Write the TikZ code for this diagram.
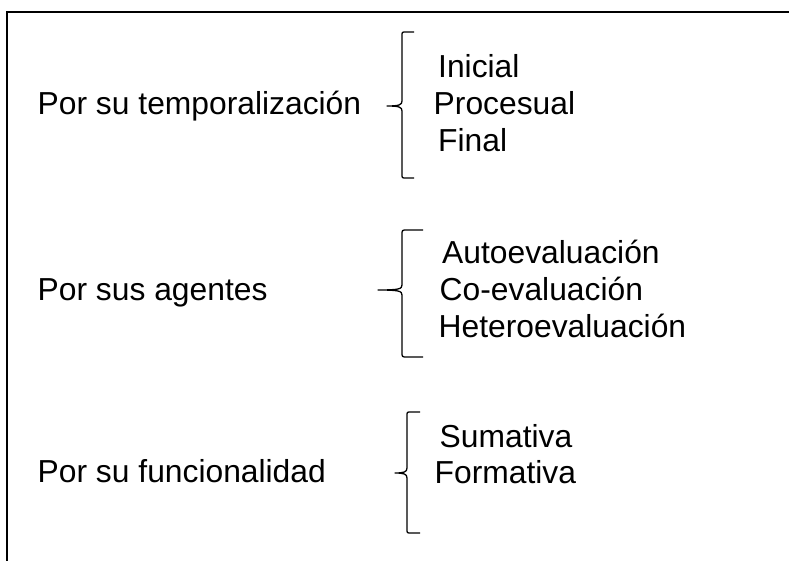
\documentclass[tikz,border=0pt]{standalone}
\usepackage{fontspec}
\setmainfont{Liberation Sans}
\begin{document}
\begin{tikzpicture}[x=1pt,y=-1pt,
  lbl/.style={anchor=base west,inner sep=0pt,font=\fontsize{31.8}{36}\selectfont},
  frame/.style={line width=2pt},
  brace/.style={line width=1.3pt,line join=round}]
\useasboundingbox (0,0) rectangle (789,561);
% frame (top and left edges)
\draw[frame] (789,12) -- (7,12) -- (7,561);
% group 1
\node[lbl] (g1) at (37.5,115) {Por su temporalización};
\node[lbl] (a1) at (438,78) {Inicial};
\node[lbl] (a2) at (433.5,115) {Procesual};
\node[lbl] (a3) at (438,152) {Final};
\draw[brace] (414,32) -- (406,32) .. controls (402,32) .. (402,36) -- (402,101)
  .. controls (402,105) and (399,106) .. (387,106)
  .. controls (399,106) and (402,107) .. (402,111) -- (402,174)
  .. controls (402,178) .. (406,178) -- (414,178);
% group 2
\node[lbl] (g2) at (37.5,300) {Por sus agentes};
\node[lbl] (b1) at (442,263) {Autoevaluación};
\node[lbl] (b2) at (439.5,300) {Co-evaluación};
\node[lbl] (b3) at (438.5,337) {Heteroevaluación};
\draw[brace] (423,230) -- (407,230) .. controls (402,230) .. (402,235) -- (402,285)
  .. controls (402,289) and (399,290) .. (378,290)
  .. controls (399,290) and (402,291) .. (402,295) -- (402,352)
  .. controls (402,357) .. (407,357) -- (423,357);
% group 3
\node[lbl] (g3) at (37.5,482) {Por su funcionalidad};
\node[lbl] (c1) at (439.5,447) {Sumativa};
\node[lbl] (c2) at (434.5,483) {Formativa};
\draw[brace] (420,412) -- (411,412) .. controls (407,412) .. (407,416) -- (407,468)
  .. controls (407,472) and (404,473) .. (395,473)
  .. controls (404,473) and (407,474) .. (407,478) -- (407,529)
  .. controls (407,533) .. (411,533) -- (420,533);
\end{tikzpicture}
\end{document}
